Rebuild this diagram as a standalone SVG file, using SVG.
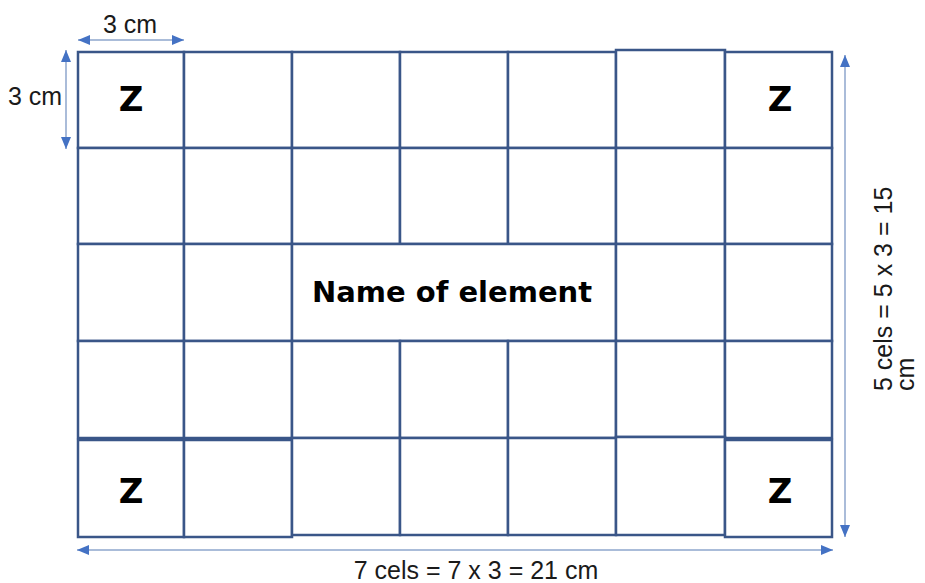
<svg xmlns="http://www.w3.org/2000/svg" width="925" height="583" viewBox="0 0 925 583">
<style>
.c{fill:#fff;stroke:#3a5688;stroke-width:2.5}
.z{font-family:"DejaVu Sans",sans-serif;font-weight:bold;font-size:34px;fill:#000;text-anchor:middle}
.t{font-family:"Liberation Sans",Arial,sans-serif;font-size:25px;fill:#1a1a1a}
.dim{stroke:#8ea6cc;stroke-width:1.5;fill:none}
</style>
<defs>
<marker id="ah" viewBox="0 0 12 10" refX="12" refY="5" markerWidth="12" markerHeight="10" markerUnits="userSpaceOnUse" orient="auto-start-reverse">
<path d="M0,0 L12,5 L0,10 Z" fill="#4472c4"/>
</marker>
</defs>
<rect width="925" height="583" fill="#fff"/>
<g id="grid">
<g id="r1c1"><rect class="c" x="78" y="52" width="106" height="96"/><text class="z" x="131" y="111">Z</text></g>
<g id="r1c2"><rect class="c" x="184" y="52" width="108" height="96"/></g>
<g id="r1c3"><rect class="c" x="292" y="52" width="108" height="96"/></g>
<g id="r1c4"><rect class="c" x="400" y="52" width="108" height="96"/></g>
<g id="r1c5"><rect class="c" x="508" y="52" width="108" height="96"/></g>
<g id="r1c6"><rect class="c" x="616" y="50" width="109" height="98"/></g>
<g id="r1c7"><rect class="c" x="725" y="52" width="107" height="96"/><text class="z" x="780" y="111">Z</text></g>
<g id="r2c1"><rect class="c" x="78" y="148" width="106" height="96"/></g>
<g id="r2c2"><rect class="c" x="184" y="148" width="108" height="96"/></g>
<g id="r2c3"><rect class="c" x="292" y="148" width="108" height="96"/></g>
<g id="r2c4"><rect class="c" x="400" y="148" width="108" height="96"/></g>
<g id="r2c5"><rect class="c" x="508" y="148" width="108" height="96"/></g>
<g id="r2c6"><rect class="c" x="616" y="148" width="109" height="96"/></g>
<g id="r2c7"><rect class="c" x="725" y="148" width="107" height="96"/></g>
<g id="r3c1"><rect class="c" x="78" y="244" width="106" height="97"/></g>
<g id="r3c2"><rect class="c" x="184" y="244" width="108" height="97"/></g>
<g id="name"><rect class="c" x="292" y="244" width="324" height="97"/><text x="452" y="302" text-anchor="middle" font-family="DejaVu Sans, sans-serif" font-weight="bold" font-size="29" fill="#000">Name of element</text></g>
<g id="r3c6"><rect class="c" x="616" y="244" width="109" height="97"/></g>
<g id="r3c7"><rect class="c" x="725" y="244" width="107" height="97"/></g>
<g id="r4c1"><rect class="c" x="78" y="341" width="106" height="97"/></g>
<g id="r4c2"><rect class="c" x="184" y="341" width="108" height="97"/></g>
<g id="r4c3"><rect class="c" x="292" y="341" width="108" height="97"/></g>
<g id="r4c4"><rect class="c" x="400" y="341" width="108" height="97"/></g>
<g id="r4c5"><rect class="c" x="508" y="341" width="108" height="97"/></g>
<g id="r4c6"><rect class="c" x="616" y="341" width="109" height="96"/></g>
<g id="r4c7"><rect class="c" x="725" y="341" width="107" height="97"/></g>
<g id="r5c1"><rect class="c" x="78" y="440" width="106" height="97"/><text class="z" x="131" y="503">Z</text></g>
<g id="r5c2"><rect class="c" x="184" y="440" width="108" height="97"/></g>
<g id="r5c3"><rect class="c" x="292" y="438" width="108" height="97"/></g>
<g id="r5c4"><rect class="c" x="400" y="438" width="108" height="97"/></g>
<g id="r5c5"><rect class="c" x="508" y="438" width="108" height="97"/></g>
<g id="r5c6"><rect class="c" x="616" y="437" width="109" height="98"/></g>
<g id="r5c7"><rect class="c" x="725" y="440" width="107" height="97"/><text class="z" x="780" y="503">Z</text></g>
</g>
<g id="connectors">
<line class="dim" x1="78" y1="40" x2="184" y2="40" marker-start="url(#ah)" marker-end="url(#ah)"/>
<line class="dim" x1="66" y1="50" x2="66" y2="149" marker-start="url(#ah)" marker-end="url(#ah)"/>
<line class="dim" x1="845" y1="55" x2="845" y2="537" marker-start="url(#ah)" marker-end="url(#ah)"/>
<line class="dim" x1="77" y1="550" x2="833" y2="550" marker-start="url(#ah)" marker-end="url(#ah)"/>
</g>
<g id="labels">
<text class="t" x="130" y="33" text-anchor="middle">3 cm</text>
<text class="t" x="8" y="105">3 cm</text>
<text class="t" x="476" y="579" text-anchor="middle">7 cels = 7 x 3 = 21 cm</text>
<text class="t" transform="translate(892,391) rotate(-90)">5 cels = 5 x 3 = 15</text>
<text class="t" transform="translate(914,391) rotate(-90)">cm</text>
</g>
</svg>
